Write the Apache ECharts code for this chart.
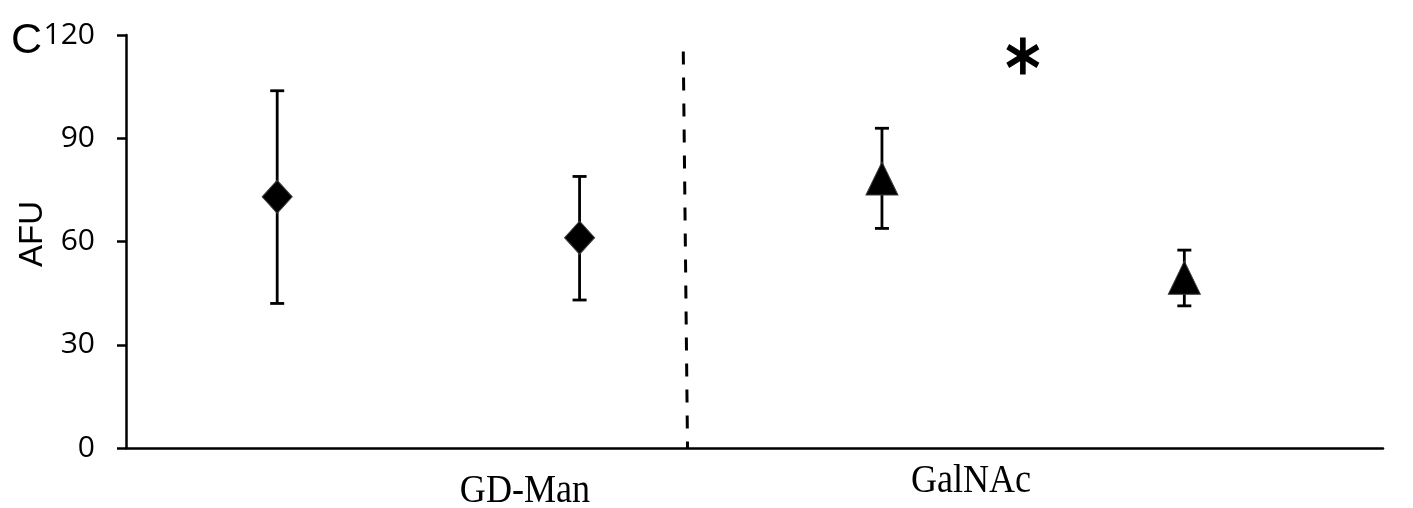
<!DOCTYPE html>
<html>
<head>
<meta charset="utf-8">
<script src="https://cdn.jsdelivr.net/npm/echarts@6/dist/echarts.min.js"></script>
<style>
html,body{margin:0;padding:0;background:#fff;}
#chart{width:1413px;height:508px;}
</style>
</head>
<body>
<div id="chart"></div>
<script>
// ---- data ----
var groups = ['GD-Man', 'GalNAc'];
var positions = [0.5, 1.5, 2.5, 3.5];
var markerShapes = ['diamond', 'diamond', 'triangle', 'triangle'];
var means = [73.0, 61.1, 78.3, 49.5];
var upper = [103.8, 78.9, 92.9, 57.5];
var lower = [42.0, 43.0, 63.8, 41.3];
var yTicks = [0, 30, 60, 90, 120];
var dividerX = [1.843, 1.857];
var dividerTop = 115.2;
var significance = [[2.966, 113.9]];

var asteriskPath = 'path://M84 0 L116 0 L116 200 L84 200 Z M178 35 L194 63 L22 165 L6 137 Z M6 63 L22 35 L194 137 L178 165 Z';

var chart = echarts.init(document.getElementById('chart'), null, {renderer: 'canvas'});

var pointData = positions.map(function (x, i) {
  return {
    value: [x, means[i]],
    symbol: markerShapes[i],
    symbolSize: markerShapes[i] === 'diamond' ? [30, 33] : [32, 33]
  };
});
var errData = positions.map(function (x, i) { return [x, lower[i], upper[i]]; });

var option = {
  animation: false,
  backgroundColor: '#ffffff',
  grid: {left: 126, right: 30, top: 35, bottom: 60, containLabel: false},
  xAxis: {
    type: 'value', min: 0, max: 4.157,
    axisLine: {show: true, onZero: false, lineStyle: {color: '#000', width: 2.5}},
    axisTick: {show: false},
    axisLabel: {show: false},
    splitLine: {show: false}
  },
  yAxis: {
    type: 'value', min: yTicks[0], max: yTicks[yTicks.length - 1], interval: 30,
    axisLine: {show: true, lineStyle: {color: '#000', width: 2.5}},
    axisTick: {show: true, inside: false, length: 9, lineStyle: {color: '#000', width: 2.5}},
    axisLabel: {color: '#000', fontFamily: '"Open Sans", sans-serif', fontSize: 30, margin: 31},
    splitLine: {show: false}
  },
  series: [
    {
      type: 'custom',
      name: 'errors',
      z: 2,
      data: errData,
      renderItem: function (params, api) {
        var x = api.value(0);
        var lo = api.coord([x, api.value(1)]);
        var hi = api.coord([x, api.value(2)]);
        var cw = 7;
        var st = {stroke: '#000', lineWidth: 2.8};
        return {
          type: 'group',
          children: [
            {type: 'line', shape: {x1: lo[0], y1: lo[1], x2: hi[0], y2: hi[1]}, style: st},
            {type: 'line', shape: {x1: hi[0] - cw, y1: hi[1], x2: hi[0] + cw, y2: hi[1]}, style: st},
            {type: 'line', shape: {x1: lo[0] - cw, y1: lo[1], x2: lo[0] + cw, y2: lo[1]}, style: st}
          ]
        };
      }
    },
    {
      type: 'scatter',
      name: 'means',
      z: 3,
      data: pointData,
      itemStyle: {color: '#000', borderColor: '#3a3a3a', borderWidth: 1, opacity: 1},
      markLine: {
        silent: true,
        symbol: ['none', 'none'],
        label: {show: false},
        lineStyle: {color: '#000', width: 3, type: [13, 13], opacity: 1},
        data: [[{coord: [dividerX[0], dividerTop]}, {coord: [dividerX[1], 0]}]]
      }
    },
    {
      type: 'scatter',
      name: 'significance',
      z: 3,
      data: significance,
      symbol: asteriskPath,
      symbolSize: [33, 37],
      itemStyle: {color: '#000', opacity: 1}
    }
  ],
  graphic: [
    {type: 'text', left: 11, top: 20, style: {text: 'C', font: '43px "Liberation Sans"', fill: '#000'}},
    {type: 'text', x: 33, y: 234, rotation: Math.PI / 2,
      style: {text: 'AFU', font: '33px "Liberation Sans"', fill: '#000', align: 'center', verticalAlign: 'middle'}},
    {type: 'text', x: 525, y: 491, scaleX: 0.88,
      style: {text: groups[0], font: '41px "Liberation Serif"', fill: '#000', align: 'center', verticalAlign: 'middle'}},
    {type: 'text', x: 971, y: 481, scaleX: 0.88,
      style: {text: groups[1], font: '41px "Liberation Serif"', fill: '#000', align: 'center', verticalAlign: 'middle'}}
  ]
};
chart.setOption(option);
</script>
</body>
</html>
